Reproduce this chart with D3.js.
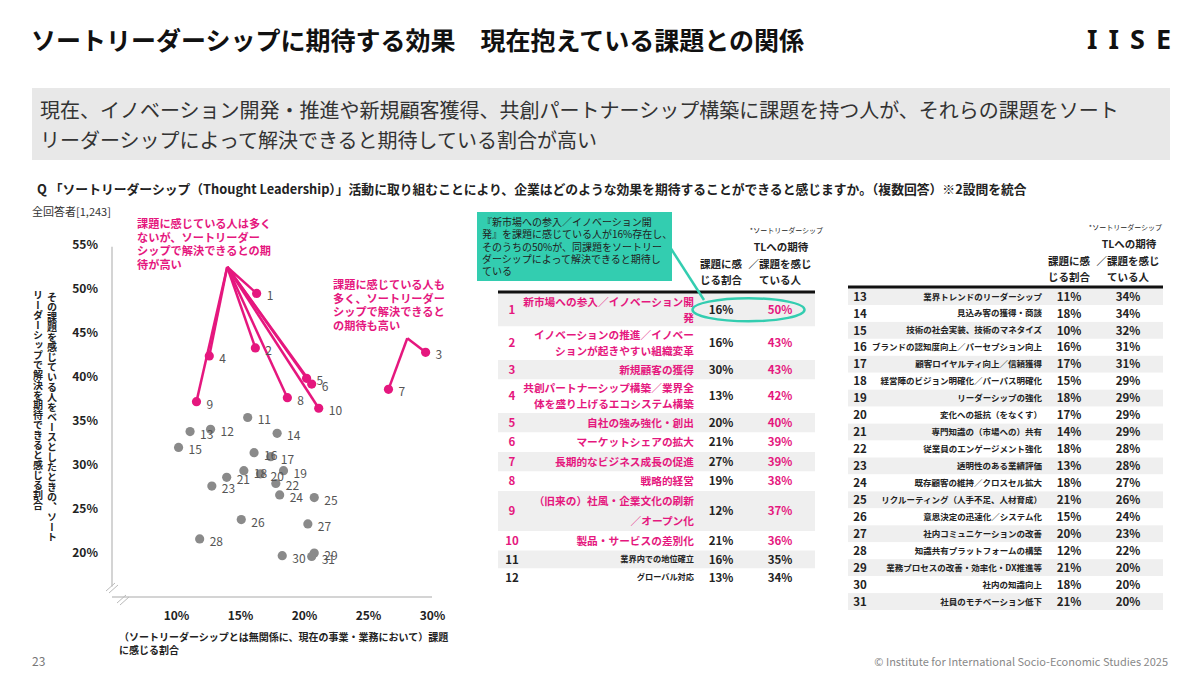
<!DOCTYPE html>
<html lang="ja">
<head>
<meta charset="utf-8">
<script src="https://cdn.jsdelivr.net/npm/d3@7"></script>
<style>
  body { margin: 0; background: #fff; }
  svg { display: block; font-family: "Noto Sans CJK JP", "Noto Sans", sans-serif; }
</style>
</head>
<body>
<div id="chart"></div>
<script>
// Rank of each expected effect (1 = highest TL expectation)
var ranks = d3.range(1, 32);

// Effect names, "\n" where the table wraps the text
var effectLabels = [
  "新市場への参入／イノベーション開\n発",
  "イノベーションの推進／イノベー\nションが起きやすい組織変革",
  "新規顧客の獲得",
  "共創パートナーシップ構築／業界全\n体を盛り上げるエコシステム構築",
  "自社の強み強化・創出",
  "マーケットシェアの拡大",
  "長期的なビジネス成長の促進",
  "戦略的経営",
  "（旧来の）社風・企業文化の刷新\n／オープン化",
  "製品・サービスの差別化",
  "業界内での地位確立",
  "グローバル対応",
  "業界トレンドのリーダーシップ",
  "見込み客の獲得・商談",
  "技術の社会実装、技術のマネタイズ",
  "ブランドの認知度向上／パーセプション向上",
  "顧客ロイヤルティ向上／信頼獲得",
  "経営陣のビジョン明確化／パーパス明確化",
  "リーダーシップの強化",
  "変化への抵抗（をなくす）",
  "専門知識の（市場への）共有",
  "従業員のエンゲージメント強化",
  "透明性のある業績評価",
  "既存顧客の維持／クロスセル拡大",
  "リクルーティング（人手不足、人材育成）",
  "意思決定の迅速化／システム化",
  "社内コミュニケーションの改善",
  "知識共有プラットフォームの構築",
  "業務プロセスの改善・効率化・DX推進等",
  "社内の知識向上",
  "社員のモチベーション低下"
];

// Share who feel it is an issue now (%), x axis
var issueShare = [16.3, 16.2, 29.5, 12.6, 20.2, 20.6, 26.6, 18.7, 11.6, 21.15,
  15.6, 12.7, 11.1, 17.9, 10.2, 16.1, 17.4, 15.3, 18.4, 16.6,
  13.96, 17.8, 12.8, 18.1, 20.8, 15.1, 20.3, 11.85, 20.8, 18.3, 20.6];

// Of those, share expecting thought leadership to solve it (%), y axis
var tlExpect = [49.5, 43.3, 42.8, 42.4, 39.85, 39.2, 38.6, 37.65, 37.2, 36.45,
  35.4, 34.05, 33.8, 33.6, 32.0, 31.4, 30.95, 29.35, 29.35, 29.0,
  28.6, 27.9, 27.6, 26.6, 26.3, 23.8, 23.3, 21.6, 20.0, 19.7, 19.6];

// Axis ticks
var xTicks = [10, 15, 20, 25, 30];
var yTicks = [20, 25, 30, 35, 40, 45, 50, 55];

// Callout groups (indexes into the arrays above) and where their leader lines meet
var calloutA = [0, 1, 3, 8, 4, 5, 7, 9];
var calloutAApex = [14.0, 52.5];
var calloutB = [2, 6];
var calloutBApex = [28.07, 44.4];

var highlightCount = 10;
var pink = "#e5177e";
var teal = "#33cdb0";
var dark = "#222";

var svg = d3.select("#chart")
  .append("svg")
  .attr("width", 1200)
  .attr("height", 675);

// ---------- header ----------
svg.append("text")
  .attr("x", 31).attr("y", 50)
  .attr("font-size", 25).attr("font-weight", 700).attr("fill", "#111")
  .text("ソートリーダーシップに期待する効果　現在抱えている課題との関係");

svg.append("text")
  .attr("x", 1087).attr("y", 49)
  .attr("font-family", "'Noto Sans', sans-serif")
  .attr("font-size", 27).attr("font-weight", 700).attr("letter-spacing", 11).attr("fill", "#111")
  .text("IISE");

svg.append("rect")
  .attr("x", 32).attr("y", 88).attr("width", 1138).attr("height", 72)
  .attr("fill", "#e8e8e8");

svg.append("text")
  .attr("x", 40).attr("y", 118)
  .attr("font-size", 20).attr("fill", "#333")
  .text("現在、イノベーション開発・推進や新規顧客獲得、共創パートナーシップ構築に課題を持つ人が、それらの課題をソート");
svg.append("text")
  .attr("x", 40).attr("y", 148)
  .attr("font-size", 20).attr("fill", "#333")
  .text("リーダーシップによって解決できると期待している割合が高い");

svg.append("text")
  .attr("x", 37).attr("y", 194)
  .attr("font-size", 12.8).attr("font-weight", 700).attr("fill", dark)
  .text("Q 「ソートリーダーシップ（Thought Leadership）」活動に取り組むことにより、企業はどのような効果を期待することができると感じますか。（複数回答）※2設問を統合");

svg.append("text")
  .attr("x", 32).attr("y", 216)
  .attr("font-size", 11).attr("fill", "#333")
  .text("全回答者[1,243]");

// footer
svg.append("text")
  .attr("x", 32).attr("y", 666)
  .attr("font-size", 12).attr("fill", "#777")
  .text("23");
svg.append("text")
  .attr("x", 1168).attr("y", 666).attr("text-anchor", "end")
  .attr("font-size", 11).attr("fill", "#888")
  .text("© Institute for International Socio-Economic Studies 2025");

// ---------- scatter ----------
var x = d3.scaleLinear().domain([5, 30]).range([112, 432]);
var y = d3.scaleLinear().domain([15, 55]).range([597, 245]);

var plot = svg.append("g");

// axis lines with break marks
plot.append("line")
  .attr("x1", x(5)).attr("x2", x(5)).attr("y1", y(54.8)).attr("y2", y(16.2))
  .attr("stroke", "#d4d4d4").attr("stroke-width", 2);
plot.append("line")
  .attr("x1", x(5)).attr("x2", x(30)).attr("y1", y(15)).attr("y2", y(15))
  .attr("stroke", "#d4d4d4").attr("stroke-width", 2);
[[106, 591], [109, 593], [117, 603], [120, 605]].forEach(function (p) {
  plot.append("line")
    .attr("x1", p[0]).attr("y1", p[1]).attr("x2", p[0] + 9).attr("y2", p[1] - 8)
    .attr("stroke", "#bbb").attr("stroke-width", 1);
});

var leftAxis = d3.axisLeft(y).tickValues(yTicks).tickSize(0).tickPadding(14)
  .tickFormat(function (d) { return d + "%"; });
var bottomAxis = d3.axisBottom(x).tickValues(xTicks).tickSize(0).tickPadding(14)
  .tickFormat(function (d) { return d + "%"; });

var gy = plot.append("g").attr("transform", "translate(" + x(5) + ",0)").call(leftAxis);
var gx = plot.append("g").attr("transform", "translate(0," + y(15) + ")").call(bottomAxis);
[gx, gy].forEach(function (g) {
  g.select(".domain").remove();
  g.attr("font-family", null).attr("font-size", null);
  g.selectAll("text")
    .attr("font-size", 12).attr("font-weight", 700).attr("fill", dark);
});

// axis titles
svg.append("text")
  .attr("x", 52).attr("y", 292)
  .attr("writing-mode", "vertical-rl")
  .attr("font-size", 10).attr("font-weight", 700).attr("fill", dark)
  .text("その課題を感じている人をベースとしたときの、ソート");
svg.append("text")
  .attr("x", 38).attr("y", 290)
  .attr("writing-mode", "vertical-rl")
  .attr("font-size", 10).attr("font-weight", 700).attr("fill", dark)
  .text("リーダーシップで解決を期待できると感じる割合");

svg.append("text")
  .attr("x", 119).attr("y", 641)
  .attr("font-size", 10).attr("font-weight", 700).attr("fill", dark)
  .text("（ソートリーダーシップとは無関係に、現在の事業・業務において）課題");
svg.append("text")
  .attr("x", 119).attr("y", 654)
  .attr("font-size", 10).attr("font-weight", 700).attr("fill", dark)
  .text("に感じる割合");

// leader lines from the callouts
function drawLeaders(group, apex) {
  plot.selectAll(null)
    .data(group)
    .enter()
    .append("line")
    .attr("x1", x(apex[0])).attr("y1", y(apex[1]))
    .attr("x2", function (i) { return x(issueShare[i]); })
    .attr("y2", function (i) { return y(tlExpect[i]); })
    .attr("stroke", pink).attr("stroke-width", 2.5);
}
drawLeaders(calloutA, calloutAApex);
drawLeaders(calloutB, calloutBApex);

// points
plot.selectAll(".dot")
  .data(ranks)
  .enter()
  .append("circle")
  .attr("class", "dot")
  .attr("cx", function (r, i) { return x(issueShare[i]); })
  .attr("cy", function (r, i) { return y(tlExpect[i]); })
  .attr("r", 4.6)
  .attr("fill", function (r, i) { return i < highlightCount ? pink : "#8a8a8a"; });

plot.selectAll(".dot-label")
  .data(ranks)
  .enter()
  .append("text")
  .attr("class", "dot-label")
  .attr("x", function (r, i) { return x(issueShare[i]) + 10; })
  .attr("y", function (r, i) { return y(tlExpect[i]) + 7; })
  .attr("font-size", 12).attr("fill", "#555")
  .text(function (r) { return r; });

// callout texts
var calloutTextA = ["課題に感じている人は多く", "ないが、ソートリーダー", "シップで解決できるとの期", "待が高い"];
var calloutTextB = ["課題に感じている人も", "多く、ソートリーダー", "シップで解決できると", "の期待も高い"];
function drawNote(lines, x0, y0) {
  svg.append("text")
    .attr("font-size", 11.2).attr("font-weight", 700).attr("fill", pink)
    .selectAll("tspan")
    .data(lines)
    .enter()
    .append("tspan")
    .attr("x", x0)
    .attr("y", function (d, i) { return y0 + i * 13.5; })
    .text(function (d) { return d; });
}
drawNote(calloutTextA, 137, 228);
drawNote(calloutTextB, 333, 289);

// ---------- tables ----------
var pct = function (v) { return Math.round(v) + "%"; };

function tableHeader(cols, yTop) {
  var g = svg.append("g").attr("font-weight", 700).attr("fill", dark);
  g.append("text").attr("x", cols.noteEnd).attr("y", yTop).attr("text-anchor", "end")
    .attr("font-size", 7).attr("font-weight", 400).text("*ソートリーダーシップ");
  g.append("text").attr("x", cols.c2 + 1).attr("y", yTop + 18).attr("text-anchor", "middle")
    .attr("font-size", 10.5).text("TLへの期待");
  g.append("text").attr("x", cols.c1).attr("y", yTop + 35).attr("text-anchor", "middle")
    .attr("font-size", 10.5).text("課題に感");
  g.append("text").attr("x", cols.c2).attr("y", yTop + 35).attr("text-anchor", "middle")
    .attr("font-size", 10.5).text("／課題を感じ");
  g.append("text").attr("x", cols.c1).attr("y", yTop + 51).attr("text-anchor", "middle")
    .attr("font-size", 10.5).text("じる割合");
  g.append("text").attr("x", cols.c2).attr("y", yTop + 51).attr("text-anchor", "middle")
    .attr("font-size", 10.5).text("ている人");
}

function drawTable(rows, cols, lineY) {
  var g = svg.append("g");
  var row = g.selectAll(".row")
    .data(rows)
    .enter()
    .append("g")
    .attr("class", "row");

  row.append("rect")
    .attr("x", cols.left).attr("width", cols.right - cols.left)
    .attr("y", function (d) { return d.top; })
    .attr("height", function (d) { return d.h; })
    .attr("fill", function (d, k) { return k % 2 === 0 ? "#efefef" : "#fff"; });

  row.append("text")
    .attr("x", cols.rank)
    .attr("y", function (d) { return d.top + d.h / 2; })
    .attr("dy", "0.36em").attr("text-anchor", "middle")
    .attr("font-size", 11.5).attr("font-weight", 700)
    .attr("fill", function (d) { return d.i < highlightCount ? pink : dark; })
    .text(function (d) { return ranks[d.i]; });

  row.append("text")
    .attr("text-anchor", "end")
    .attr("font-size", function (d) { return d.i < highlightCount ? 10.7 : cols.small; })
    .attr("font-weight", 700)
    .attr("fill", function (d) { return d.i < highlightCount ? pink : dark; })
    .each(function (d) {
      var lines = effectLabels[d.i].split("\n");
      var mid = d.top + d.h / 2;
      var gap = d.h > 36 ? 20 : 16;
      d3.select(this).selectAll("tspan")
        .data(lines)
        .enter()
        .append("tspan")
        .attr("x", cols.labelEnd)
        .attr("y", function (t, j) { return mid + (j - (lines.length - 1) / 2) * gap; })
        .attr("dy", "0.36em")
        .text(function (t) { return t; });
    });

  row.append("text")
    .attr("x", cols.c1)
    .attr("y", function (d) { return d.top + d.h / 2; })
    .attr("dy", "0.36em").attr("text-anchor", "middle")
    .attr("font-size", 11.5).attr("font-weight", 700).attr("fill", dark)
    .text(function (d) { return pct(issueShare[d.i]); });

  row.append("text")
    .attr("x", cols.c2)
    .attr("y", function (d) { return d.top + d.h / 2; })
    .attr("dy", "0.36em").attr("text-anchor", "middle")
    .attr("font-size", 11.5).attr("font-weight", 700)
    .attr("fill", function (d) { return d.i < highlightCount ? pink : dark; })
    .text(function (d) { return pct(tlExpect[d.i]); });

  g.append("line")
    .attr("x1", cols.left).attr("x2", cols.right).attr("y1", lineY).attr("y2", lineY)
    .attr("stroke", "#111").attr("stroke-width", 3);
}

// middle table: effects 1-12
var midCols = { left: 498, right: 815, rank: 512, labelEnd: 694, c1: 721, c2: 780, small: 8.2, noteEnd: 823 };
var midRows = [];
var cursor = 293;
d3.range(0, 12).forEach(function (i) {
  var lines = effectLabels[i].split("\n");
  var h = lines.length > 1 ? (lines[1].length < 8 && i > 5 ? 40 : 33.5) : (i < highlightCount ? 19.5 : 18);
  midRows.push({ i: i, top: cursor, h: h });
  cursor += h;
});
tableHeader(midCols, 233);
drawTable(midRows, midCols, 292);

// right table: effects 13-31
var rightCols = { left: 848, right: 1163, rank: 860, labelEnd: 1042, c1: 1069, c2: 1128, small: 8.5, noteEnd: 1162 };
var rightRows = d3.range(12, 31).map(function (i, k) {
  return { i: i, top: 288 + k * 16.95, h: 16.95 };
});
tableHeader(rightCols, 230);
drawTable(rightRows, rightCols, 287);

// teal note box pointing at row 1
var note = svg.append("g");
note.append("line")
  .attr("x1", 668).attr("y1", 244).attr("x2", 704).attr("y2", 300)
  .attr("stroke", teal).attr("stroke-width", 2.5);
note.append("rect")
  .attr("x", 477).attr("y", 212).attr("width", 195).attr("height", 69)
  .attr("fill", teal);
note.append("text")
  .attr("font-size", 10).attr("fill", "#222")
  .selectAll("tspan")
  .data(["『新市場への参入／イノベーション開", "発』を課題に感じている人が16%存在し、",
    "そのうちの50%が、同課題をソートリー", "ダーシップによって解決できると期待し", "ている"])
  .enter()
  .append("tspan")
  .attr("x", 482)
  .attr("y", function (d, i) { return 226 + i * 12.3; })
  .text(function (d) { return d; });
note.append("ellipse")
  .attr("cx", (midCols.c1 + midCols.c2) / 2 - 2)
  .attr("cy", midRows[0].top + midRows[0].h / 2)
  .attr("rx", 56).attr("ry", 11.5)
  .attr("fill", "none").attr("stroke", teal).attr("stroke-width", 2.5);
</script>
</body>
</html>
